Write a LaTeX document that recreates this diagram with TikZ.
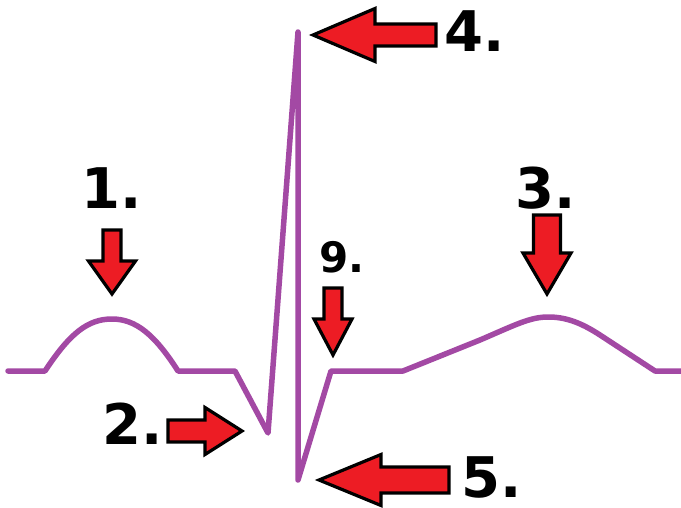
\documentclass[tikz,border=0pt]{standalone}
\usepackage{fontspec}
\setmainfont{DejaVu Sans}
\usetikzlibrary{positioning}
\definecolor{ecgPurple}{HTML}{A349A4}
\definecolor{markRed}{HTML}{ED1C24}
\tikzset{
  trace/.style={line width=5.5pt, color=ecgPurple, line join=round, line cap=round},
  blockArrow/.style={draw=black, fill=markRed, line width=3.2pt, line join=miter},
  numLabel/.style={font=\fontsize{56}{56}\selectfont\bfseries, inner sep=0pt, text=black},
  smallLabel/.style={font=\fontsize{42}{42}\selectfont\bfseries, inner sep=0pt, text=black},
}
% block arrow: tip, direction, length, shaft width, head width, head length
\newcommand{\blockarrow}[6]{%
  \draw[blockArrow, shift={(#1)}, rotate=#2] (0,0) -- (-#6,#5/2) -- (-#6,#4/2)
    -- (-#3,#4/2) -- (-#3,-#4/2) -- (-#6,-#4/2) -- (-#6,-#5/2) -- cycle;}

\begin{document}
\begin{tikzpicture}[x=1pt, y=-1pt]
  \fill[white] (0,0) rectangle (681,508);
  \useasboundingbox (0,0) rectangle (681,508);

  % ECG trace
  \draw[trace] (8,371) -- (45,371)
    .. controls (70,333) and (88,319) .. (112,319)
    .. controls (136,319) and (155,335) .. (178,371)
    -- (235,371) -- (268,433) -- (298,32) -- (298,480) -- (331,371) -- (403,371)
    -- (480,340) .. controls (515,325) and (530,317) .. (548,317)
    .. controls (565,317) and (580,322) .. (600,335) -- (655,371) -- (681,371);

  % points marked
  \coordinate (pWave) at (112,294);
  \coordinate (qWave) at (242,431);
  \coordinate (tWave) at (547,294);
  \coordinate (rPeak) at (313,35);
  \coordinate (sDip)  at (319,480);
  \coordinate (jPoint) at (333,355);

  \blockarrow{pWave}{-90}{64}{18}{47}{33}
  \blockarrow{qWave}{0}{74}{22}{47}{37}
  \blockarrow{tWave}{-90}{79}{27}{48}{41}
  \blockarrow{rPeak}{180}{123}{22}{53}{62}
  \blockarrow{sDip}{180}{130}{26}{51}{62}
  \blockarrow{jPoint}{-90}{67}{18}{38}{36}

  \node[numLabel] (lab1) at (112,188) {1.};
  \node[numLabel] (lab2) at (133,424) {2.};
  \node[numLabel] (lab3) at (546,188) {3.};
  \node[numLabel] (lab4) at (475,31) {4.};
  \node[numLabel] (lab5) at (492,477) {5.};
  \node[smallLabel] (lab9) at (342,257) {9.};
\end{tikzpicture}
\end{document}
